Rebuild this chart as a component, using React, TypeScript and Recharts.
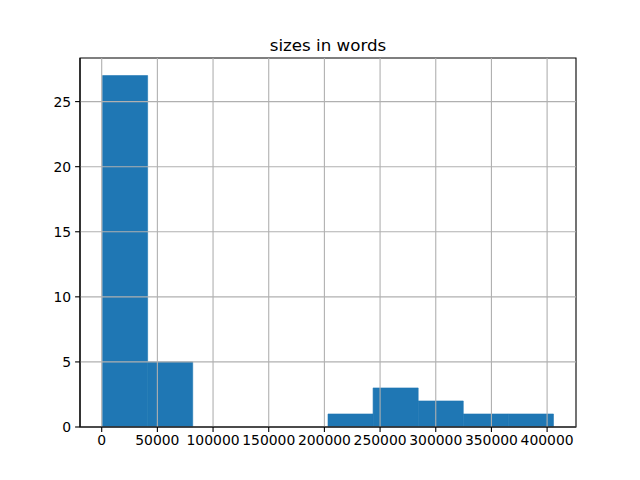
import React from "react";
import {
  ComposedChart,
  XAxis,
  YAxis,
  ReferenceArea,
  ReferenceLine,
} from "recharts";

// Histogram bin edges (words) and counts per bin
const binEdges = [759, 41253, 81748, 122242, 162737, 203231, 243726, 284220, 324714, 365209, 405703];
const binCounts = [27, 5, 0, 0, 0, 1, 3, 2, 1, 1];
const xTicks = [0, 50000, 100000, 150000, 200000, 250000, 300000, 350000, 400000];
const yTicks = [0, 5, 10, 15, 20, 25];
const xDomain: [number, number] = [-19488, 425950];
const yDomain: [number, number] = [0, 28.35];
const title = "sizes in words";

const bins = binCounts.map((c, i) => ({ x1: binEdges[i], x2: binEdges[i + 1], count: c }));
const chartData = [{ x: xDomain[0], y: 0 }, { x: xDomain[1], y: 0 }];

const FONT = "DejaVu Sans";

export default function App() {
  return (
    <div style={{ position: "absolute", left: 0, top: 0, width: 640, height: 480, background: "#fff" }}>
      <svg width={640} height={480} style={{ position: "absolute", left: 0, top: 0 }}>
        <text x={328} y={50.6} textAnchor="middle" fontFamily={FONT} fontSize={16.7} fill="#000">
          {title}
        </text>
      </svg>
      <div style={{ position: "absolute", left: 0, top: 0 }}>
        <ComposedChart
          width={640}
          height={480}
          data={chartData}
          margin={{ top: 58, right: 64, bottom: 0, left: 0 }}
        >
          <XAxis
            dataKey="x"
            type="number"
            domain={xDomain}
            ticks={xTicks}
            allowDataOverflow
            height={53}
            tickSize={4.9}
            tickMargin={3}
            axisLine={{ stroke: "#000", strokeWidth: 1.1 }}
            tickLine={{ stroke: "#000", strokeWidth: 1.1 }}
            tick={{ fill: "#000", fontFamily: FONT, fontSize: 13.9 }}
            interval={0}
          />
          <YAxis
            type="number"
            domain={yDomain}
            ticks={yTicks}
            allowDataOverflow
            width={80}
            tickSize={4.9}
            tickMargin={4}
            axisLine={{ stroke: "#000", strokeWidth: 1.1 }}
            tickLine={{ stroke: "#000", strokeWidth: 1.1 }}
            tick={{ fill: "#000", fontFamily: FONT, fontSize: 13.9 }}
            interval={0}
          />
          {bins.map((b, i) =>
            b.count > 0 ? (
              <ReferenceArea
                key={"bin" + i}
                x1={b.x1}
                x2={b.x2}
                y1={0}
                y2={b.count}
                fill="#1f77b4"
                fillOpacity={1}
                stroke="#1f77b4"
                strokeWidth={0.6}
              />
            ) : null
          )}
          {xTicks.map((t) => (
            <ReferenceLine key={"gx" + t} x={t} stroke="#b0b0b0" strokeWidth={1.1} />
          ))}
          {yTicks.map((t) => (
            <ReferenceLine key={"gy" + t} y={t} stroke="#b0b0b0" strokeWidth={1.1} />
          ))}
          <ReferenceArea
            x1={xDomain[0]}
            x2={xDomain[1]}
            y1={yDomain[0]}
            y2={yDomain[1]}
            fill="none"
            fillOpacity={0}
            stroke="#000"
            strokeWidth={1.1}
          />
        </ComposedChart>
      </div>
    </div>
  );
}
